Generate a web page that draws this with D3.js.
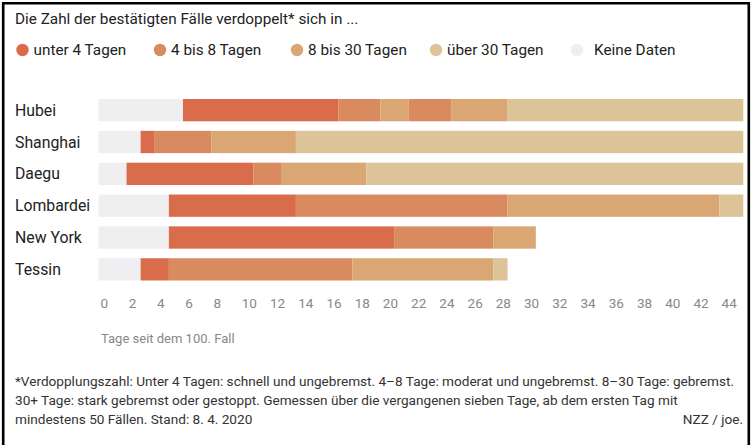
<!DOCTYPE html>
<html>
<head>
<meta charset="utf-8">
<script src="https://cdn.jsdelivr.net/npm/d3@7"></script>
<style>
  html, body { margin: 0; padding: 0; background: #fff; }
  svg { display: block; font-family: Roboto, "Noto Sans", sans-serif; }
</style>
</head>
<body>
<svg id="chart" width="752" height="445"></svg>
<script>
// Doubling-time categories (legend order)
const categories = ["unter 4 Tagen", "4 bis 8 Tagen", "8 bis 30 Tagen", "über 30 Tagen", "Keine Daten"];
const categoryKeys = ["u4", "4-8", "8-30", "o30", "none"];
const categoryColors = ["#d96c4b", "#d98b5f", "#d9a674", "#dcc398", "#efeff1"];

const regions = ["Hubei", "Shanghai", "Daegu", "Lombardei", "New York", "Tessin"];

// Segments per region: [start day, end day, category key]
const hubei     = [[0, 6, "none"], [6, 17, "u4"], [17, 20, "4-8"], [20, 22, "8-30"], [22, 25, "4-8"], [25, 29, "8-30"], [29, 46, "o30"]];
const shanghai  = [[0, 3, "none"], [3, 4, "u4"], [4, 8, "4-8"], [8, 14, "8-30"], [14, 46, "o30"]];
const daegu     = [[0, 2, "none"], [2, 11, "u4"], [11, 13, "4-8"], [13, 19, "8-30"], [19, 46, "o30"]];
const lombardei = [[0, 5, "none"], [5, 14, "u4"], [14, 29, "4-8"], [29, 44, "8-30"], [44, 46, "o30"]];
const newYork   = [[0, 5, "none"], [5, 21, "u4"], [21, 28, "4-8"], [28, 31, "8-30"]];
const tessin    = [[0, 3, "none"], [3, 5, "u4"], [5, 18, "4-8"], [18, 28, "8-30"], [28, 29, "o30"]];
const segmentsByRegion = [hubei, shanghai, daegu, lombardei, newYork, tessin];

const tickValues = d3.range(0, 45, 2);
const visibleDays = 45.7;

const title = "Die Zahl der bestätigten Fälle verdoppelt* sich in ...";
const axisTitle = "Tage seit dem 100. Fall";
const footnoteLines = [
  "*Verdopplungszahl: Unter 4 Tagen: schnell und ungebremst. 4–8 Tage: moderat und ungebremst. 8–30 Tage: gebremst.",
  "30+ Tage: stark gebremst oder gestoppt. Gemessen über die vergangenen sieben Tage, ab dem ersten Tag mit",
  "mindestens 50 Fällen. Stand: 8. 4. 2020"
];
const credit = "NZZ / joe.";

const svg = d3.select("#chart");
const color = d3.scaleOrdinal().domain(categoryKeys).range(categoryColors);

const plotLeft = 98.3, plotRight = 743.3;
const x = d3.scaleLinear().domain([0, visibleDays]).range([plotLeft, plotRight]);
const y = d3.scaleBand().domain(regions).range([99, 280.5]).paddingInner(0.3);

// Frame
svg.append("path")
  .attr("d", "M3.2,445 V3.2 H748.8 V445")
  .attr("fill", "none").attr("stroke", "#000").attr("stroke-width", 2.6);

// Title
svg.append("text")
  .attr("x", 15).attr("y", 24)
  .attr("font-size", 15.3).attr("fill", "#222")
  .text(title);

// Legend
const legendX = [22.5, 160, 297, 436, 577];
const legend = svg.append("g").selectAll("g")
  .data(categories)
  .join("g")
  .attr("transform", (d, i) => `translate(${legendX[i]},50)`);
legend.append("circle").attr("r", 6.2).attr("fill", (d, i) => categoryColors[i]);
legend.append("text")
  .attr("x", (d, i) => i === 4 ? 17 : 11).attr("dy", "0.35em")
  .attr("font-size", 15.3).attr("fill", "#222")
  .text(d => d);

// Bars
svg.append("clipPath").attr("id", "plot-clip")
  .append("rect")
  .attr("x", plotLeft).attr("y", 0)
  .attr("width", plotRight - plotLeft).attr("height", 445);

const rows = svg.append("g").attr("clip-path", "url(#plot-clip)")
  .selectAll("g")
  .data(regions)
  .join("g")
  .attr("transform", d => `translate(0,${y(d)})`);

rows.selectAll("rect")
  .data((d, i) => segmentsByRegion[i])
  .join("rect")
  .attr("x", d => x(d[0]))
  .attr("width", d => x(d[1]) - x(d[0]))
  .attr("height", y.bandwidth())
  .attr("fill", d => color(d[2]));

// Region labels
svg.append("g").selectAll("text")
  .data(regions)
  .join("text")
  .attr("x", 15)
  .attr("y", d => y(d) + y.bandwidth() / 2)
  .attr("dy", "0.35em")
  .attr("font-size", 15.8).attr("fill", "#222")
  .text(d => d);

// X axis (tick labels only)
const axis = svg.append("g")
  .attr("transform", "translate(0,303)")
  .call(d3.axisBottom(x).tickValues(tickValues).tickSize(0).tickPadding(0));
axis.select(".domain").remove();
axis.selectAll("text")
  .attr("font-family", "Roboto, sans-serif")
  .attr("font-size", 13.5)
  .attr("fill", "#888")
  .attr("text-anchor", "start")
  .attr("x", 1.8)
  .attr("y", 0)
  .attr("dy", "0.35em");

svg.append("text")
  .attr("x", 101).attr("y", 343)
  .attr("font-size", 13).attr("fill", "#888")
  .text(axisTitle);

// Footnote
svg.append("g").selectAll("text")
  .data(footnoteLines)
  .join("text")
  .attr("x", 15)
  .attr("y", (d, i) => 386 + i * 19)
  .attr("font-size", 13.6).attr("fill", "#333")
  .text(d => d);

svg.append("text")
  .attr("x", 743).attr("y", 424)
  .attr("text-anchor", "end")
  .attr("font-size", 13.6).attr("fill", "#333")
  .text(credit);
</script>
</body>
</html>
